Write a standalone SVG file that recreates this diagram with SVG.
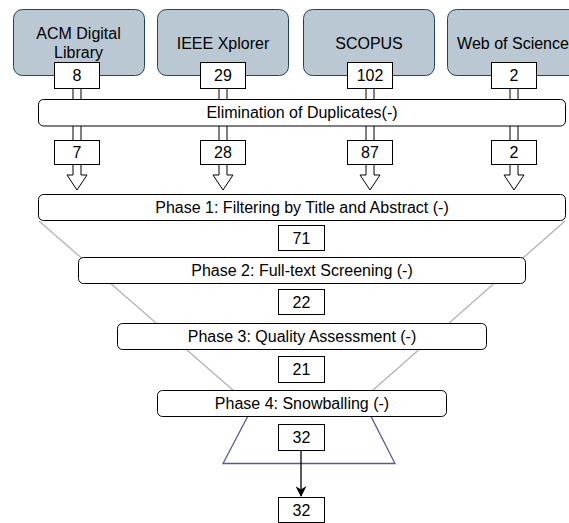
<svg xmlns="http://www.w3.org/2000/svg" width="569" height="523" viewBox="0 0 569 523">
<defs>
<style>
text{font-family:"Liberation Sans",Arial,sans-serif;font-size:16px;fill:#000;text-anchor:middle;dominant-baseline:central}
.src{fill:#bac8d3;stroke:#23445d;stroke-width:1}
.box{fill:#fff;stroke:#000;stroke-width:1}
.phase{fill:#fff;stroke:#000;stroke-width:1}
.dl{stroke:#000;stroke-width:1;fill:none}
.arr{fill:#fff;stroke:#000;stroke-width:1}
.funnel{stroke:#b3b3b3;stroke-width:1.3;fill:none}
.trap{stroke:#56579b;stroke-width:1.3;fill:none}
</style>
<marker id="ah" viewBox="0 0 10 10" refX="9" refY="5" markerWidth="12" markerHeight="11" markerUnits="userSpaceOnUse" orient="auto">
<path d="M0,0 L10,5 L0,10 L3,5 Z" fill="#000"/>
</marker>
</defs>

<g id="funnel">
<line class="funnel" x1="39" y1="221" x2="234" y2="391"/>
<line class="funnel" x1="565" y1="221" x2="372" y2="391"/>
</g>
<g id="trapezoid">
<polygon class="trap" points="261,391 358,391 395,463.5 223,463.5"/>
</g>

<g id="connectors">
<path class="dl" d="M73,88V99M81,88V99M73,126V140M81,126V140"/>
<path class="arr" d="M73,164V175H67L77,190L87,175H81V164Z"/>
<path class="dl" d="M219,88V99M227,88V99M219,126V140M227,126V140"/>
<path class="arr" d="M219,164V175H213L223,190L233,175H227V164Z"/>
<path class="dl" d="M366,88V99M374,88V99M366,126V140M374,126V140"/>
<path class="arr" d="M366,164V175H360L370,190L380,175H374V164Z"/>
<path class="dl" d="M510,88V99M518,88V99M510,126V140M518,126V140"/>
<path class="arr" d="M510,164V175H504L514,190L524,175H518V164Z"/>
<line x1="301" y1="450" x2="301" y2="496" stroke="#000" stroke-width="1.3" marker-end="url(#ah)"/>
</g>

<g id="acm">
<rect class="src" x="13.5" y="9.5" width="131" height="66" rx="9"/>
<text x="78.5" y="33">ACM Digital</text>
<text x="78.5" y="52">Library</text>
</g>
<g id="ieee">
<rect class="src" x="157.5" y="9.5" width="131" height="66" rx="9"/>
<text x="223" y="43">IEEE Xplorer</text>
</g>
<g id="scopus">
<rect class="src" x="303.5" y="9.5" width="131" height="66" rx="9"/>
<text x="369" y="43">SCOPUS</text>
</g>
<g id="wos">
<rect class="src" x="447.5" y="9.5" width="131" height="66" rx="9"/>
<text x="513" y="43">Web of Science</text>
</g>

<g id="n8"><rect class="box" x="54.5" y="62.5" width="45" height="26"/><text x="77" y="75.5">8</text></g>
<g id="n29"><rect class="box" x="200.5" y="62.5" width="45" height="26"/><text x="223" y="75.5">29</text></g>
<g id="n102"><rect class="box" x="347.5" y="62.5" width="45" height="26"/><text x="370" y="75.5">102</text></g>
<g id="n2a"><rect class="box" x="491.5" y="62.5" width="45" height="26"/><text x="514" y="75.5">2</text></g>

<g id="elimination">
<rect class="phase" x="38.5" y="99.5" width="527" height="26.5" rx="5"/>
<text x="302" y="112.5">Elimination of Duplicates(-)</text>
</g>

<g id="n7"><rect class="box" x="54.5" y="140.5" width="45" height="24"/><text x="77" y="152.5">7</text></g>
<g id="n28"><rect class="box" x="200.5" y="140.5" width="45" height="24"/><text x="223" y="152.5">28</text></g>
<g id="n87"><rect class="box" x="347.5" y="140.5" width="45" height="24"/><text x="370" y="152.5">87</text></g>
<g id="n2b"><rect class="box" x="491.5" y="140.5" width="45" height="24"/><text x="514" y="152.5">2</text></g>

<g id="phase1">
<rect class="phase" x="38.5" y="194.5" width="527" height="26" rx="5"/>
<text x="302" y="207.5">Phase 1: Filtering by Title and Abstract (-)</text>
</g>
<g id="n71"><rect class="box" x="278.5" y="225.5" width="46" height="25"/><text x="301.5" y="238">71</text></g>

<g id="phase2">
<rect class="phase" x="78.5" y="257.5" width="447" height="26" rx="5"/>
<text x="302" y="270.5">Phase 2: Full-text Screening (-)</text>
</g>
<g id="n22"><rect class="box" x="278.5" y="289.5" width="46" height="25"/><text x="301.5" y="302">22</text></g>

<g id="phase3">
<rect class="phase" x="117.5" y="323.5" width="369" height="26" rx="5"/>
<text x="302" y="336.5">Phase 3: Quality Assessment (-)</text>
</g>
<g id="n21"><rect class="box" x="278.5" y="356.5" width="46" height="26"/><text x="301.5" y="369.5">21</text></g>

<g id="phase4">
<rect class="phase" x="157.5" y="390.5" width="289" height="26" rx="5"/>
<text x="302" y="403.5">Phase 4: Snowballing (-)</text>
</g>
<g id="n32a"><rect class="box" x="278.5" y="424.5" width="46" height="26"/><text x="301.5" y="437.5">32</text></g>
<g id="n32b"><rect class="box" x="278.5" y="497.5" width="46" height="25"/><text x="301.5" y="510">32</text></g>
</svg>
